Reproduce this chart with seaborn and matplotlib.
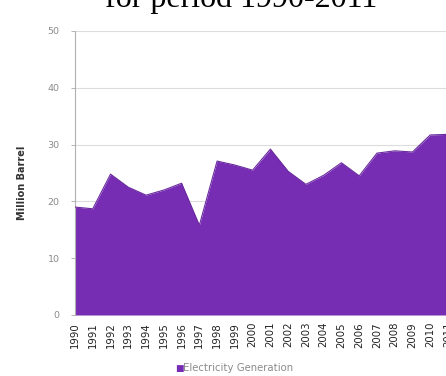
import matplotlib
matplotlib.use('Agg')
import matplotlib.pyplot as plt
import seaborn as sns
import numpy as np
import pandas as pd

# Data
years = [str(y) for y in range(1990, 2012)]
electricity_generation = [19.0, 18.7, 24.8, 22.5, 21.1, 22.0, 23.2, 15.8, 27.1, 26.4,
                          25.5, 29.2, 25.3, 23.0, 24.6, 26.8, 24.5, 28.5, 28.9, 28.7,
                          31.7, 31.8]
y_ticks = [0, 10, 20, 30, 40, 50]

purple = '#772db3'

df = pd.DataFrame({'year': years, 'value': electricity_generation})
df['pos'] = np.arange(len(df))

sns.set_style('white')
plt.rcParams['font.family'] = ['DejaVu Sans']

fig = plt.figure(figsize=(4.46, 3.76), dpi=100)
ax = fig.add_axes([75 / 446, 61 / 376, 373 / 446, 284 / 376])

# area
ax.fill_between(df['pos'], 0, df['value'], color=purple, linewidth=0, zorder=2,
                label='Electricity Generation')
sns.lineplot(data=df, x='pos', y='value', ax=ax, color='#6a2a9e', linewidth=0.8,
             zorder=3, legend=False)

ax.set_xlim(0, len(df) - 1)
ax.set_ylim(0, 50)
ax.set_yticks(y_ticks)
ax.set_yticklabels([str(t) for t in y_ticks], fontsize=6.8, color='#8a8a8a')
ax.set_xticks(df['pos'])
ax.set_xticklabels(df['year'], rotation=90, fontsize=7.3, color='#222222')
ax.tick_params(axis='y', length=3, width=0.6, color='#aaaaaa', pad=8, left=True)
ax.tick_params(axis='x', length=0, pad=5)

ax.grid(axis='y', color='#dcdcdc', linewidth=0.8, zorder=0)
for s in ['top', 'right', 'bottom']:
    ax.spines[s].set_visible(False)
ax.spines['left'].set_color('#b0b0b0')
ax.spines['left'].set_linewidth(0.8)

ax.set_xlabel('')
ax.set_ylabel('Million Barrel', fontsize=7, fontweight='bold', color='#333333')
ax.yaxis.set_label_coords(-0.128, 0.465)

# legend below the plot
fig.text(175 / 446, 1 - 368 / 376, '\u25a0', fontsize=6.5, color=purple,
         ha='left', va='center')
fig.text(183 / 446, 1 - 368 / 376, 'Electricity Generation', fontsize=7.3,
         color='#8a8a8a', ha='left', va='center')

# title cut off at the top edge
fig.text(241 / 446, 1 - 7 / 376, 'for period 1990-2011', fontsize=23,
         family='Liberation Serif', ha='center', va='baseline', color='black')

fig.savefig('out.png', dpi=100)
